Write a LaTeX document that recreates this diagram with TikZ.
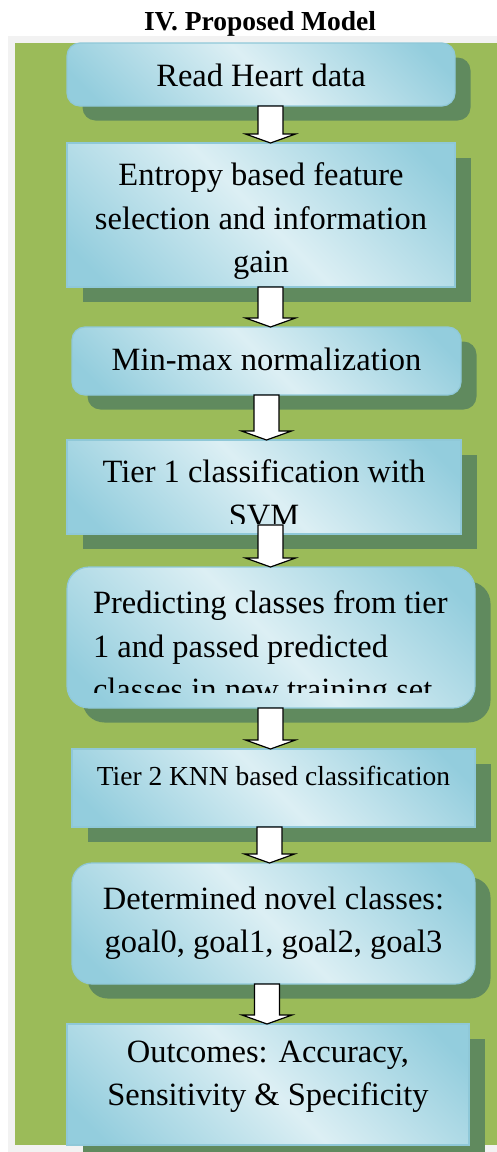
\documentclass[tikz,border=0pt]{standalone}
\usepackage{fontspec}
\setmainfont{Liberation Serif}
\usetikzlibrary{positioning,calc,shadows}

\definecolor{framegray}{HTML}{F2F2F2}
\definecolor{leafgreen}{HTML}{9BBB59}
\definecolor{shadegreen}{HTML}{608A5E}
\definecolor{boxlight}{HTML}{DCEFF4}
\definecolor{boxdark}{HTML}{93CDDD}
\definecolor{boxedge}{HTML}{8FC8D8}

\pgfdeclarehorizontalshading{boxshade}{100bp}{color(0bp)=(boxdark); color(20bp)=(boxdark);
  color(50bp)=(boxlight); color(80bp)=(boxdark); color(100bp)=(boxdark)}

\newcommand{\boxfont}{\fontsize{32.5}{43.5}\selectfont}
\newcommand{\smallboxfont}{\fontsize{27.5}{33}\selectfont}
\newcommand{\titlefont}{\fontsize{27.5}{30}\selectfont\bfseries}

\tikzset{
  flowbox/.style={draw=boxedge, line width=1.2pt, shading=boxshade, shading angle=45,
    inner sep=0pt, outer sep=0pt,
    drop shadow={shadow xshift=15.5pt, shadow yshift=-14.5pt, fill=shadegreen, opacity=1}},
  boxtext/.style={inner sep=0pt, outer sep=0pt, align=center, font=\boxfont},
  flowarrow/.style={draw=black, fill=white, line width=1.2pt, line join=miter}
}

% block arrow: from node, to node, x of the shaft, start inset
\newcommand{\flowarrow}[4]{%
  \draw[flowarrow] let \p1=(#1.south), \p2=(#2.north) in
    ({#3pt-12.5pt},{\y1+#4pt}) -- ({#3pt+12.5pt},{\y1+#4pt}) -- ({#3pt+12.5pt},{\y2+9pt})
    -- ({#3pt+25pt},{\y2+9pt}) -- ({#3pt},{\y2}) -- ({#3pt-25pt},{\y2+9pt})
    -- ({#3pt-12.5pt},{\y2+9pt}) -- cycle;}

\begin{document}
\begin{tikzpicture}[x=1pt,y=-1pt]

  \useasboundingbox (0,0) rectangle (497,1152);
  \fill[white] (0,0) rectangle (497,1152);
  \fill[framegray] (8,36) rectangle (497,1152);
  \fill[leafgreen] (15,43) rectangle (497,1145);

  \node[font=\titlefont, anchor=base] (title) at (260,30) {IV. Proposed Model};

  \node[flowbox, rounded corners=13pt, minimum width=388pt, minimum height=63pt] (read) at (261,74.5) {};
  \node[flowbox, minimum width=388pt, minimum height=144pt] (entropy) at (261,215) {};
  \node[flowbox, rounded corners=13pt, minimum width=389pt, minimum height=68pt] (minmax) at (266.5,361) {};
  \node[flowbox, minimum width=394pt, minimum height=94pt] (tierone) at (264,487) {};
  \node[flowbox, rounded corners=22pt, minimum width=408pt, minimum height=141pt] (predict) at (271,637.5) {};
  \node[flowbox, minimum width=403pt, minimum height=78pt] (tiertwo) at (273.5,788) {};
  \node[flowbox, rounded corners=20pt, minimum width=403pt, minimum height=121pt] (novel) at (273.5,923.5) {};
  \node[flowbox, minimum width=402pt, minimum height=121pt] (outcome) at (268,1084.5) {};

  \node[boxtext, below=20.8pt of read.north] (readtxt) {Read Heart data};
  \node[boxtext, below=19.8pt of entropy.north] (entropytxt)
    {Entropy based feature\\selection and information\\gain};
  \node[boxtext, below=20.8pt of minmax.north] (minmaxtxt) {Min-max normalization};
  \begin{scope}
    \clip (tierone.north west) rectangle ($(tierone.south east)+(0,-11)$);
    \node[boxtext, below=19.8pt of tierone.north] (tieronetxt) {Tier 1 classification with\\SVM};
  \end{scope}
  \begin{scope}
    \clip (predict.north west) rectangle ($(predict.south east)+(0,-16)$);
    \node[boxtext, align=left, below right=23.8pt and 26pt of predict.north west] (predicttxt)
      {Predicting classes from tier\\1 and passed predicted\\classes in new training set};
  \end{scope}
  \node[boxtext, font=\smallboxfont, below=17.2pt of tiertwo.north] (tiertwotxt)
    {Tier 2 KNN based classification};
  \node[boxtext, below=23.8pt of novel.north] (noveltxt)
    {Determined novel classes:\\goal0, goal1, goal2, goal3};
  \node[boxtext, below=16.6pt of outcome.north] (outcometxt)
    {Outcomes: Accuracy,\\Sensitivity \& Specificity};

  \foreach \src/\dst/\col/\gap in {read/entropy/270.5/0, entropy/minmax/270.5/0, minmax/tierone/266.5/0,
      tierone/predict/270.5/9, predict/tiertwo/270.5/0, tiertwo/novel/269.5/0, novel/outcome/267/0}
    \flowarrow{\src}{\dst}{\col}{\gap};

\end{tikzpicture}
\end{document}
